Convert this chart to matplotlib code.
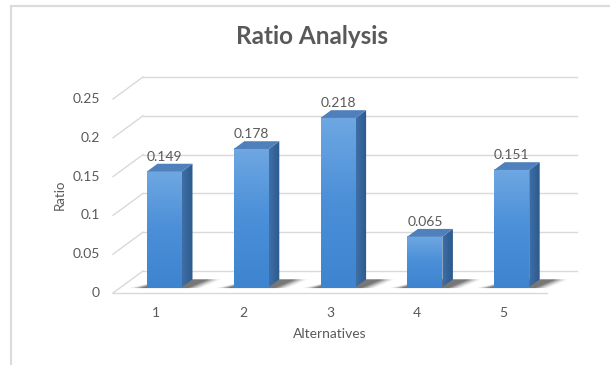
import matplotlib
matplotlib.use("Agg")
import matplotlib.pyplot as plt
from matplotlib.patches import Polygon, Rectangle
from matplotlib.colors import LinearSegmentedColormap
import numpy as np

plt.rcParams['font.family'] = ['Lato', 'DejaVu Sans']

# Chart data
categories = [1, 2, 3, 4, 5]
ratios = [0.149, 0.178, 0.218, 0.065, 0.151]
y_ticks = [0, 0.05, 0.1, 0.15, 0.2, 0.25]
y_tick_labels = ["0", "0.05", "0.1", "0.15", "0.2", "0.25"]

title = "Ratio Analysis"
x_label = "Alternatives"
y_label = "Ratio"

TEXT = "#595959"
GRID = "#d9d9d9"

W, H = 610, 365
fig = plt.figure(figsize=(W / 100, H / 100), dpi=100)
fig.patch.set_facecolor("white")

# outer chart frame
frame = Rectangle((11 / W, -0.05), 1.2, 1 - 6 / H + 0.05, transform=fig.transFigure,
                  fill=False, edgecolor="#dcdcdc", linewidth=1.6)
fig.add_artist(frame)

# axes = front plane of the floor
ax = fig.add_axes([113 / W, (H - 293) / H, 434 / W, 194 / H])
ax.set_xlim(0.5, 5.5)
ax.set_ylim(0, 0.25)
ax.axis("off")

# perspective depth vector in data units (30 px right, 22 px up)
px_x = 5.0 / 434
px_y = 0.25 / 194
DX, DY = 30 * px_x, 22 * px_y

# back wall gridlines and left wall diagonals
for v in y_ticks:
    ax.plot([0.5 + DX, 5.5 + DX], [v + DY, v + DY], color=GRID, lw=1.0,
            clip_on=False, zorder=1)
    ax.plot([0.5, 0.5 + DX], [v, v + DY], color=GRID, lw=1.0,
            clip_on=False, zorder=1)
# front floor edge
ax.plot([0.5, 5.5], [0, 0], color=GRID, lw=1.0, clip_on=False, zorder=1)

# bar geometry in depth fractions
f0, f1 = 0.27, 0.62
bw = 35 * px_x

front_cmap = LinearSegmentedColormap.from_list("front", ["#6ea7e2", "#4a8fd8", "#3f84cf"])
side_cmap = LinearSegmentedColormap.from_list("side", ["#3f6fa6", "#2c5a8e"])

for c, v in zip(categories, ratios):
    x0 = c - bw / 2 + DX * f0
    x1 = c + bw / 2 + DX * f0
    yb = DY * f0
    ddx = DX * (f1 - f0)
    ddy = DY * (f1 - f0)

    # soft shadow on the floor
    for k, a in enumerate(np.linspace(0.22, 0.05, 6)):
        grow = k * 2.5 * px_x
        sh = Polygon([(x0 - 6 * px_x - grow, yb - 1 * px_y),
                      (x1 + 6 * px_x + grow, yb - 1 * px_y),
                      (x1 + ddx + 16 * px_x + grow, yb + ddy),
                      (x0 + ddx + 10 * px_x, yb + ddy)],
                     closed=True, facecolor="#1a1a1a", edgecolor="none",
                     alpha=a, zorder=2, clip_on=False)
        ax.add_patch(sh)

    # front face with vertical gradient
    grad = np.linspace(0, 1, 64).reshape(-1, 1)
    ax.imshow(grad, cmap=front_cmap, extent=(x0, x1, yb, yb + v), aspect="auto",
              origin="upper", zorder=4, interpolation="bilinear")

    # side face
    side = Polygon([(x1, yb), (x1 + ddx, yb + ddy), (x1 + ddx, yb + v + ddy), (x1, yb + v)],
                   closed=True, zorder=3, facecolor="none", edgecolor="none")
    ax.add_patch(side)
    im = ax.imshow(np.linspace(0, 1, 32).reshape(1, -1), cmap=side_cmap,
                   extent=(x1, x1 + ddx, yb, yb + v + ddy), aspect="auto",
                   zorder=3, interpolation="bilinear")
    im.set_clip_path(side)

    # top face
    top = Polygon([(x0, yb + v), (x1, yb + v), (x1 + ddx, yb + v + ddy), (x0 + ddx, yb + v + ddy)],
                  closed=True, facecolor="#4f80bb", edgecolor="none", zorder=5)
    ax.add_patch(top)

    # value label
    ax.text((x0 + x1) / 2, yb + v + ddy + 1 * px_y, f"{v:.3f}", ha="center", va="bottom",
            fontsize=10, color=TEXT, zorder=6, clip_on=False)

ax.set_xlim(0.5, 5.5)
ax.set_ylim(0, 0.25)

# category tick labels
for c in categories:
    ax.text(c, -14 * px_y, str(c), ha="center", va="top", fontsize=10, color=TEXT,
            clip_on=False)

# value axis tick labels
for v, lab in zip(y_ticks, y_tick_labels):
    ax.text(0.5 - 13 * px_x, v, lab, ha="right", va="center", fontsize=10, color=TEXT,
            clip_on=False)

ax.text(3, -35 * px_y, x_label, ha="center", va="top", fontsize=10, color=TEXT,
        clip_on=False)
fig.text(60 / W, 1 - 195 / H, y_label, rotation=90, ha="center", va="center",
         fontsize=9.5, color=TEXT)
fig.text(312 / W, 1 - 37 / H, title, ha="center", va="center", fontsize=17.5,
         fontweight="bold", color=TEXT)

fig.savefig("out.png", dpi=100, facecolor="white")
